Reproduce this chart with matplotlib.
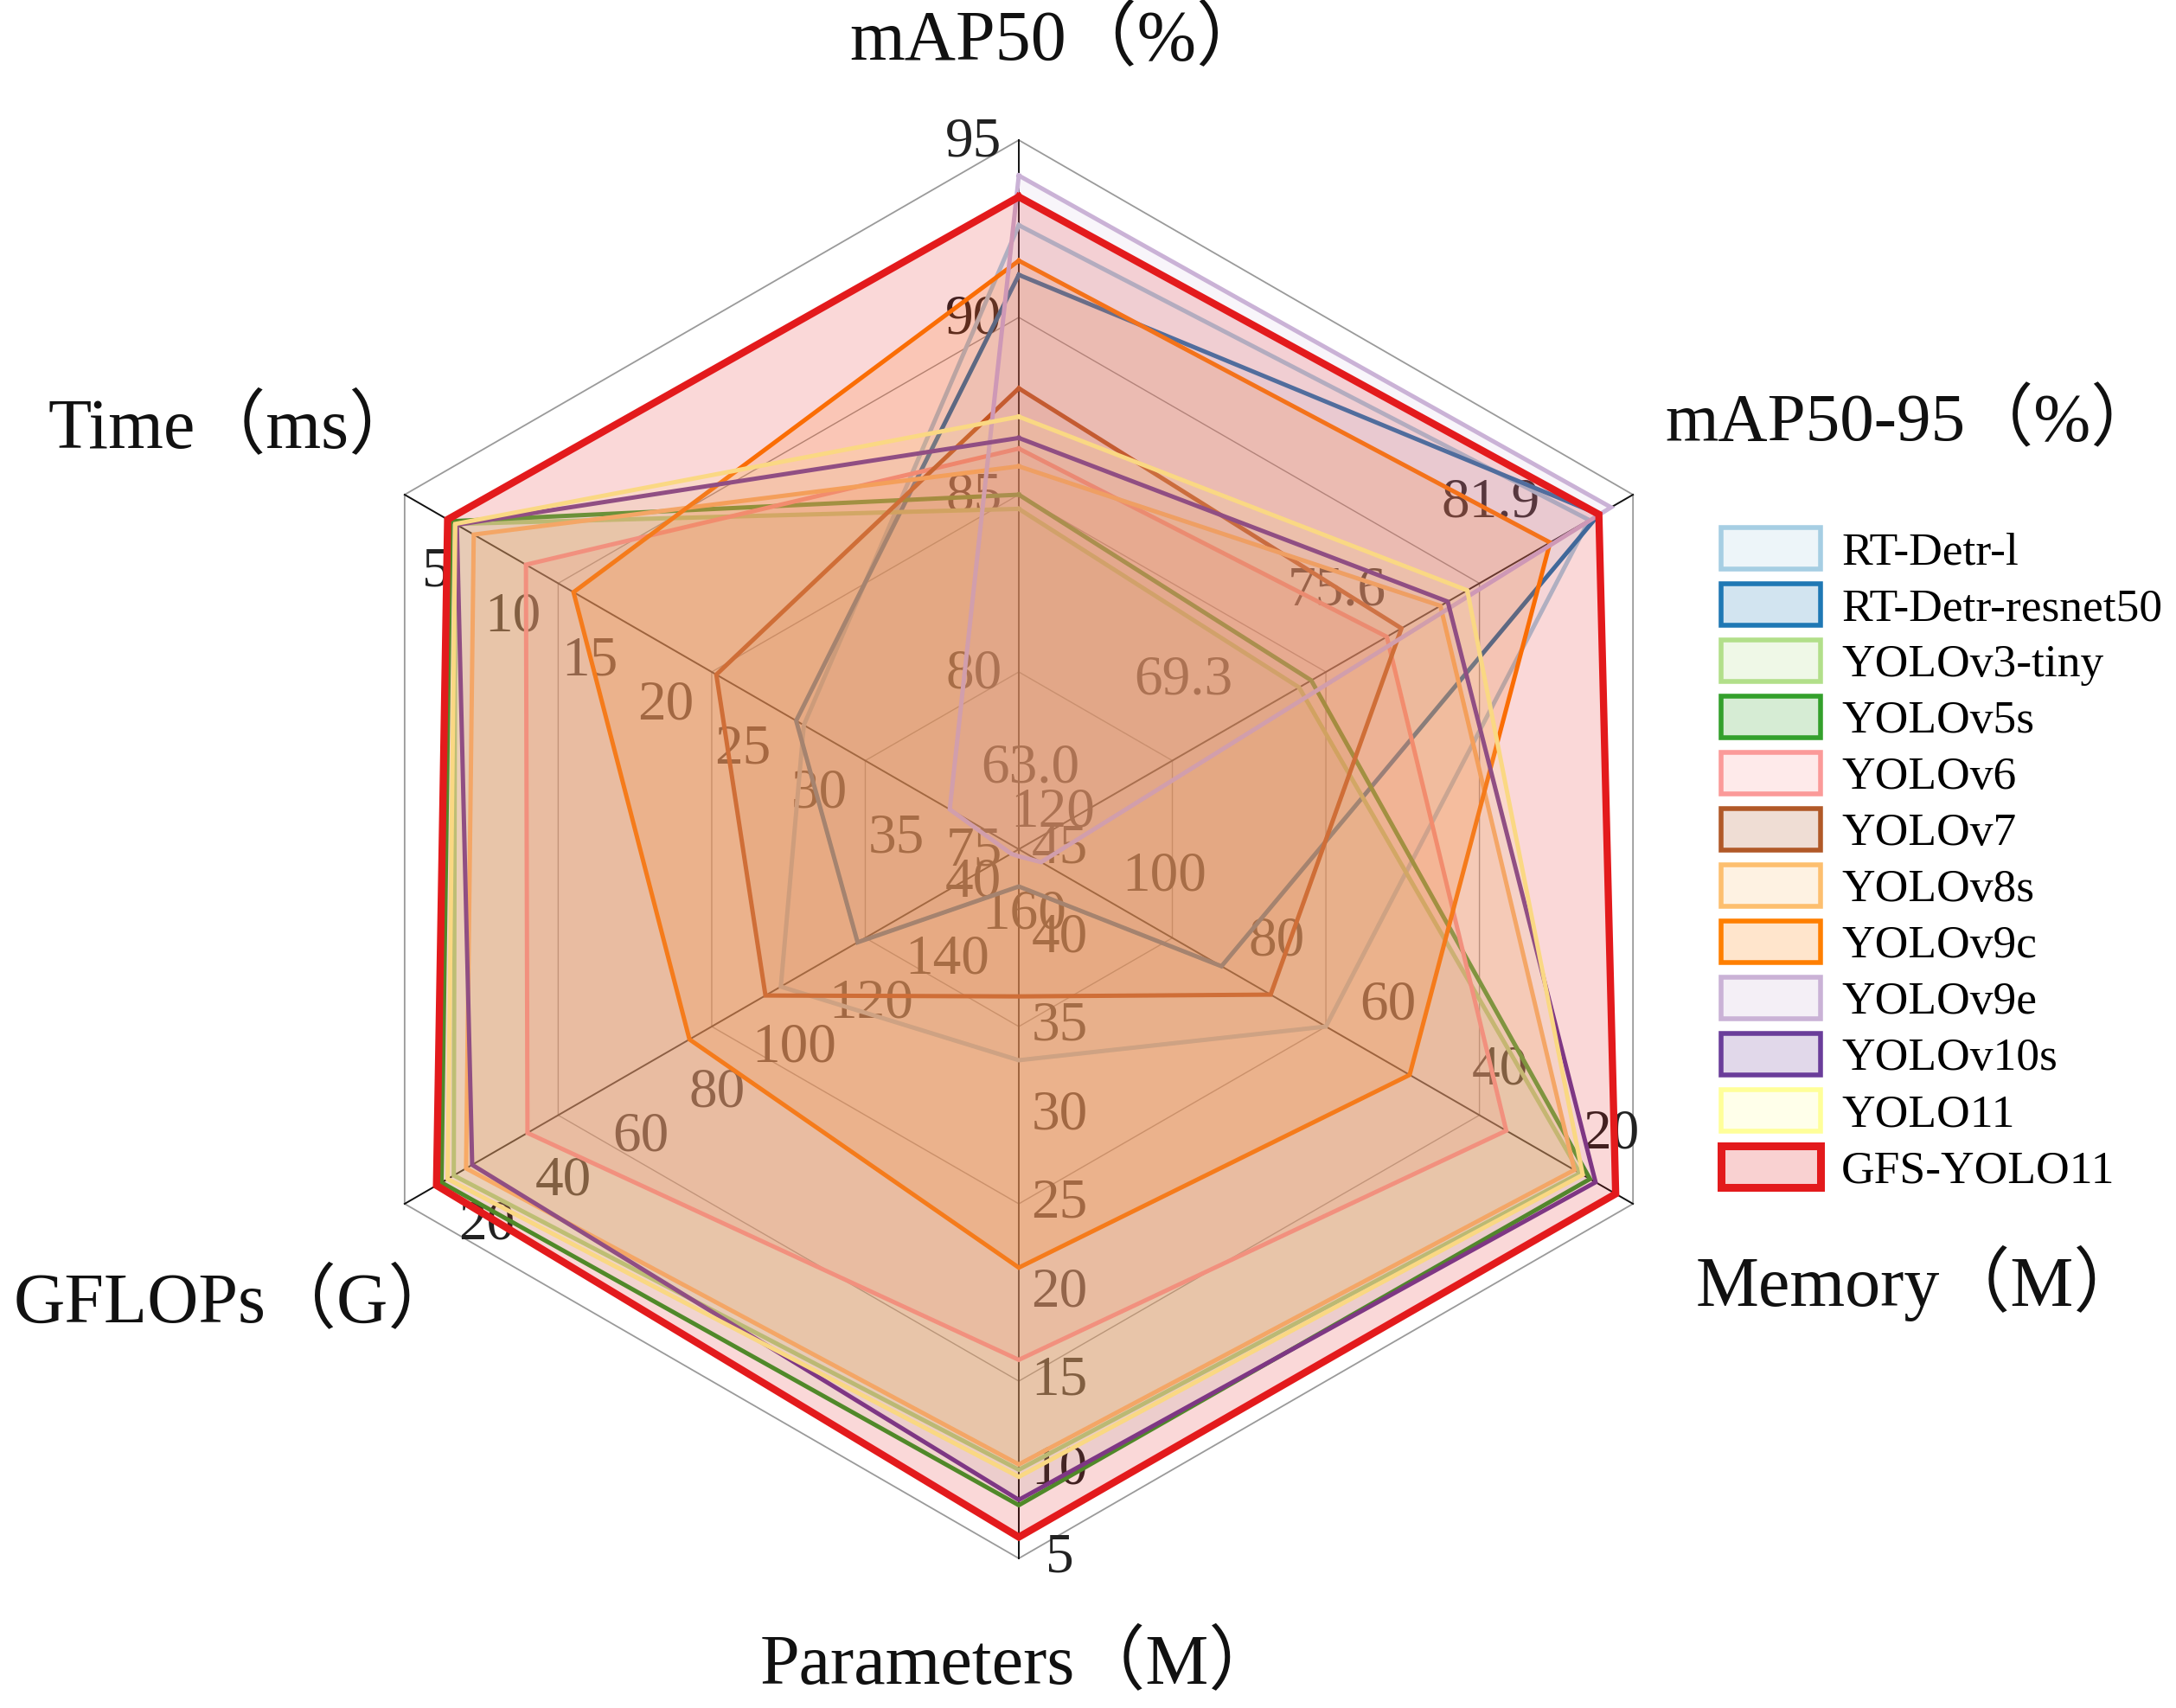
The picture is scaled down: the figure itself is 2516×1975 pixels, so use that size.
import numpy as np
import matplotlib.pyplot as plt
from matplotlib.patches import Patch
from matplotlib.colors import to_rgba

plt.rcParams['font.family'] = ['Liberation Serif', 'Noto Sans CJK SC']

# axes of the radar, clockwise from the top
axis_names = ['mAP50（%）', 'mAP50-95（%）', 'Memory（M）', 'Parameters（M）', 'GFLOPs（G）', 'Time（ms）']
angles = np.deg2rad([90, 30, -30, -90, -150, 150])
# value at the centre and value at the outer ring of every axis
val_center = [75, 63.0, 130, 45, 180, 45]
val_outer = [95, 88.2, 20, 5, 20, 5]

ticks = [
    [75, 80, 85, 90, 95],
    [63.0, 69.3, 75.6, 81.9],
    [120, 100, 80, 60, 40, 20],
    [45, 40, 35, 30, 25, 20, 15, 10, 5],
    [160, 140, 120, 100, 80, 60, 40, 20],
    [40, 35, 30, 25, 20, 15, 10, 5],
]
tick_fmt = ['{:.0f}', '{:.1f}', '{:.0f}', '{:.0f}', '{:.0f}', '{:.0f}']

models = ['RT-Detr-l', 'RT-Detr-resnet50', 'YOLOv3-tiny', 'YOLOv5s', 'YOLOv6', 'YOLOv7',
          'YOLOv8s', 'YOLOv9c', 'YOLOv9e', 'YOLOv10s', 'YOLO11', 'GFS-YOLO11']
colors = ['#a6cee3', '#1f78b4', '#b2df8a', '#33a02c', '#fb9a99', '#b15928',
          '#fdbf6f', '#ff7f00', '#cab2d6', '#6a3d9a', '#ffff99', '#e31a1c']
fill_alpha = [0.06, 0.04, 0.14, 0.05, 0.16, 0.08, 0.16, 0.16, 0.12, 0.04, 0.15, 0.17]

# mAP50, mAP50-95, Memory, Parameters, GFLOPs, Time
rtdetr_l = [92.6, 86.4, 75.0, 33.1, 118, 31.0]
rtdetr_r50 = [91.2, 86.8, 93.7, 42.9, 138, 30.5]
yolov3_tiny = [84.6, 74.5, 29.5, 10.0, 32.8, 8.3]
yolov5s = [85.0, 75.0, 27.7, 8.0, 29.6, 8.0]
yolov6 = [86.3, 78.1, 42.7, 16.2, 52.0, 12.9]
yolov7 = [88.0, 78.7, 84.9, 36.7, 114, 25.3]
yolov8s = [85.8, 80.3, 30.5, 10.3, 36.0, 9.5]
yolov9c = [91.6, 84.8, 60.0, 21.4, 94.2, 16.0]
yolov9e = [94.0, 87.3, 126, 44.6, 178, 40.5]
yolov10s = [86.6, 80.6, 26.7, 8.3, 37.6, 8.4]
yolo11 = [87.2, 81.4, 29.0, 9.6, 31.2, 8.3]
gfs_yolo11 = [93.4, 86.8, 23.1, 6.2, 28.3, 7.8]
values = [rtdetr_l, rtdetr_r50, yolov3_tiny, yolov5s, yolov6, yolov7,
          yolov8s, yolov9c, yolov9e, yolov10s, yolo11, gfs_yolo11]


def to_r(i, v):
    return (v - val_center[i]) / (val_outer[i] - val_center[i])


def xy(i, r):
    return r * np.cos(angles[i]), r * np.sin(angles[i])


W, H = 2516, 1975
cx, cy, R = 1178, 982, 820
fig = plt.figure(figsize=(W / 100, H / 100), dpi=100)
ax = fig.add_axes([0, 0, 1, 1])
ax.set_xlim(-cx / R, (W - cx) / R)
ax.set_ylim(-(H - cy) / R, cy / R)
ax.axis('off')

# hexagonal grid
for lev in [0.25, 0.5, 0.75, 1.0]:
    gx = [lev * np.cos(a) for a in angles] + [lev * np.cos(angles[0])]
    gy = [lev * np.sin(a) for a in angles] + [lev * np.sin(angles[0])]
    ax.plot(gx, gy, color='#9a9a9a', lw=1.3 if lev == 1 else 1.0, zorder=1)
for i in range(6):
    ex, ey = xy(i, 1.0)
    ax.plot([0, ex], [0, ey], color='#111111', lw=1.4, zorder=1)

# tick labels, pixel offsets from the tick point
offsets = [(-52, 3), (13, -93), (-25, -80), (47, 0), (95, 25), (36, 90)]
for i in range(6):
    for t in ticks[i]:
        tx, ty = xy(i, to_r(i, t))
        ax.text(tx + offsets[i][0] / R, ty - offsets[i][1] / R, tick_fmt[i].format(t),
                fontsize=47, color='#222222', ha='center', va='center', zorder=1)

# series
for name, col, fa, vals in zip(models, colors, fill_alpha, values):
    rs = [to_r(i, v) for i, v in enumerate(vals)]
    px = [xy(i, r)[0] for i, r in enumerate(rs)]
    py = [xy(i, r)[1] for i, r in enumerate(rs)]
    px.append(px[0])
    py.append(py[0])
    lw = 6.0 if name == 'GFS-YOLO11' else 3.6
    ax.fill(px, py, color=col, alpha=fa, lw=0, zorder=2)
    ax.plot(px, py, color=col, lw=lw, zorder=2, solid_joinstyle='miter')

# axis titles (left edge, vertical centre) in pixels
title_pos = [(982, 48), (1925, 489), (1961, 1484), (879, 1926), (16, 1508), (56, 497)]
title_size = [59, 57, 59, 59, 59, 59]
for name, (tx, ty), fs in zip(axis_names, title_pos, title_size):
    ax.text((tx - cx) / R, (cy - ty) / R, name, fontsize=fs, ha='left', va='center', color='#111111')

handles = []
for name, col in zip(models, colors):
    lw = 6.5 if name == 'GFS-YOLO11' else 4.0
    handles.append(Patch(facecolor=to_rgba(col, 0.2), edgecolor=col, linewidth=lw))
fig.legend(handles, models, loc='upper left', bbox_to_anchor=(1990 / W, 1 - 610 / H),
           frameon=False, fontsize=38.5, handlelength=2.15, handleheight=1.0,
           labelspacing=0.22, handletextpad=0.45, borderpad=0, borderaxespad=0)

fig.savefig('out.png', dpi=100)
